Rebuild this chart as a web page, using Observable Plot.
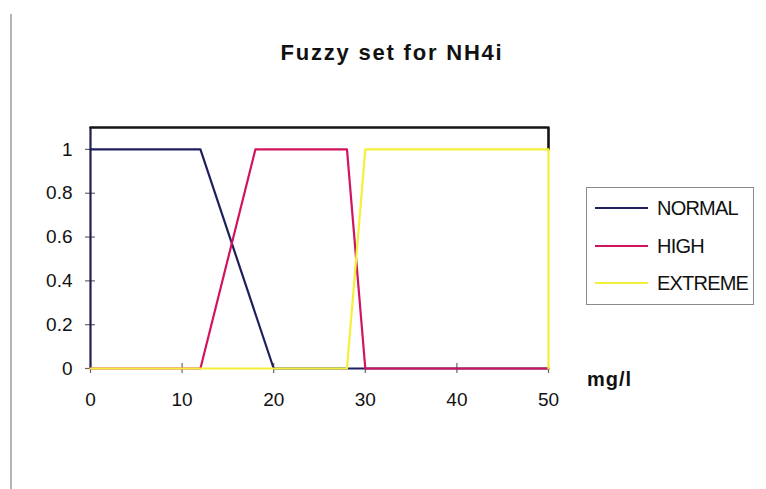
<!DOCTYPE html>
<html>
<head>
<meta charset="utf-8">
<script src="https://cdn.jsdelivr.net/npm/d3@7"></script>
<script src="https://cdn.jsdelivr.net/npm/@observablehq/plot@0.6"></script>
<style>
  html, body { margin: 0; padding: 0; background: #fff; }
  #wrap { position: relative; width: 766px; height: 489px; overflow: hidden;
          font-family: "Liberation Sans", Arial, sans-serif; color: #111; }
  #wrap svg { position: absolute; left: 0; top: 0; }
  .edge { position: absolute; left: 10px; top: 14px; width: 2px; height: 475px; background: #b4b4b4; }
  .title { position: absolute; left: 0; width: 784px; top: 42px; text-align: center;
           font-size: 22px; line-height: 22px; font-weight: bold; letter-spacing: 1.8px; }
  .unit { position: absolute; left: 587px; top: 369px; font-size: 20px; line-height: 20px;
          font-weight: bold; letter-spacing: 1px; }
  .legend { position: absolute; left: 586px; top: 187px; width: 166px; height: 116px;
            border: 1px solid #8a8a8a; }
  .row { position: absolute; left: 8px; height: 20px; }
  .row .swatch { position: absolute; left: 0; top: 9px; width: 53px; height: 0; border-top: 2px solid; }
  .row .label { position: absolute; left: 62px; top: 0; font-size: 20px; line-height: 20px;
                letter-spacing: -0.8px; white-space: nowrap; }
</style>
</head>
<body>
<div id="wrap">
  <div class="edge"></div>
  <div class="title">Fuzzy set for NH4i</div>
  <div class="unit">mg/l</div>
  <div class="legend" id="legend"></div>
</div>
<script>
// Membership functions of the fuzzy sets for NH4i (mg/l)
const seriesNames = ["NORMAL", "HIGH", "EXTREME"];
const seriesColors = ["#1f1f5e", "#d0145f", "#f4f03a"];

const normalX = [0, 12, 20, 50];
const normalY = [1, 1, 0, 0];
const highX = [0, 12, 18, 28, 30, 50];
const highY = [0, 0, 1, 1, 0, 0];
const extremeX = [0, 28, 30, 50, 50];
const extremeY = [0, 0, 1, 1, 0];

// upper boundary line of the plot area
const capX = [0, 50, 50];
const capY = [1.1, 1.1, 1];

const xTicks = [0, 10, 20, 30, 40, 50];
const yTicks = [0, 0.2, 0.4, 0.6, 0.8, 1];
const xTickLabels = ["0", "10", "20", "30", "40", "50"];
const yTickLabels = ["0", "0.2", "0.4", "0.6", "0.8", "1"];

const seriesX = [normalX, highX, extremeX];
const seriesY = [normalY, highY, extremeY];
const points = seriesNames.flatMap((name, i) =>
  seriesX[i].map((x, j) => ({series: name, x, y: seriesY[i][j]})));
const cap = capX.map((x, j) => ({x, y: capY[j]}));
const xLabels = xTicks.map((v, i) => ({v, label: xTickLabels[i]}));
const yLabels = yTicks.map((v, i) => ({v, label: yTickLabels[i]}));

const chart = Plot.plot({
  width: 766,
  height: 489,
  marginLeft: 90,
  marginRight: 218,
  marginTop: 127,
  marginBottom: 121,
  x: {domain: [0, 50], axis: null},
  y: {domain: [0, 1.1], axis: null},
  color: {domain: seriesNames, range: seriesColors},
  style: {fontFamily: "Liberation Sans, Arial, sans-serif", color: "#111"},
  marks: [
    // cross tick marks on both axes
    Plot.ruleY(yTicks, {x1: 0, x2: 0, insetLeft: -5, insetRight: -5, stroke: "#666", strokeWidth: 1.2}),
    Plot.ruleX(xTicks, {y1: 0, y2: 0, insetTop: -5, insetBottom: -5, stroke: "#666", strokeWidth: 1.2}),
    // y axis line
    Plot.ruleX([0], {y1: 0, y2: 1.1, stroke: "#1f1f4e", strokeWidth: 2.2}),
    Plot.line(cap, {x: "x", y: "y", stroke: "#151515", strokeWidth: 2.6}),
    Plot.line(points, {x: "x", y: "y", z: "series", stroke: "series", strokeWidth: 2.2}),
    Plot.text(yLabels, {x: 0, y: "v", text: "label", dx: -18, textAnchor: "end", fill: "#111", fontSize: 19}),
    Plot.text(xLabels, {x: "v", y: 0, text: "label", dy: 31, fill: "#111", fontSize: 19})
  ]
});
document.getElementById("wrap").prepend(chart);

// legend entries
const legend = document.getElementById("legend");
seriesNames.forEach((name, i) => {
  const row = document.createElement("div");
  row.className = "row";
  row.style.top = (10 + i * 37.5) + "px";
  const sw = document.createElement("div");
  sw.className = "swatch";
  sw.style.borderColor = seriesColors[i];
  const lb = document.createElement("div");
  lb.className = "label";
  lb.textContent = name;
  row.append(sw, lb);
  legend.append(row);
});
</script>
</body>
</html>
